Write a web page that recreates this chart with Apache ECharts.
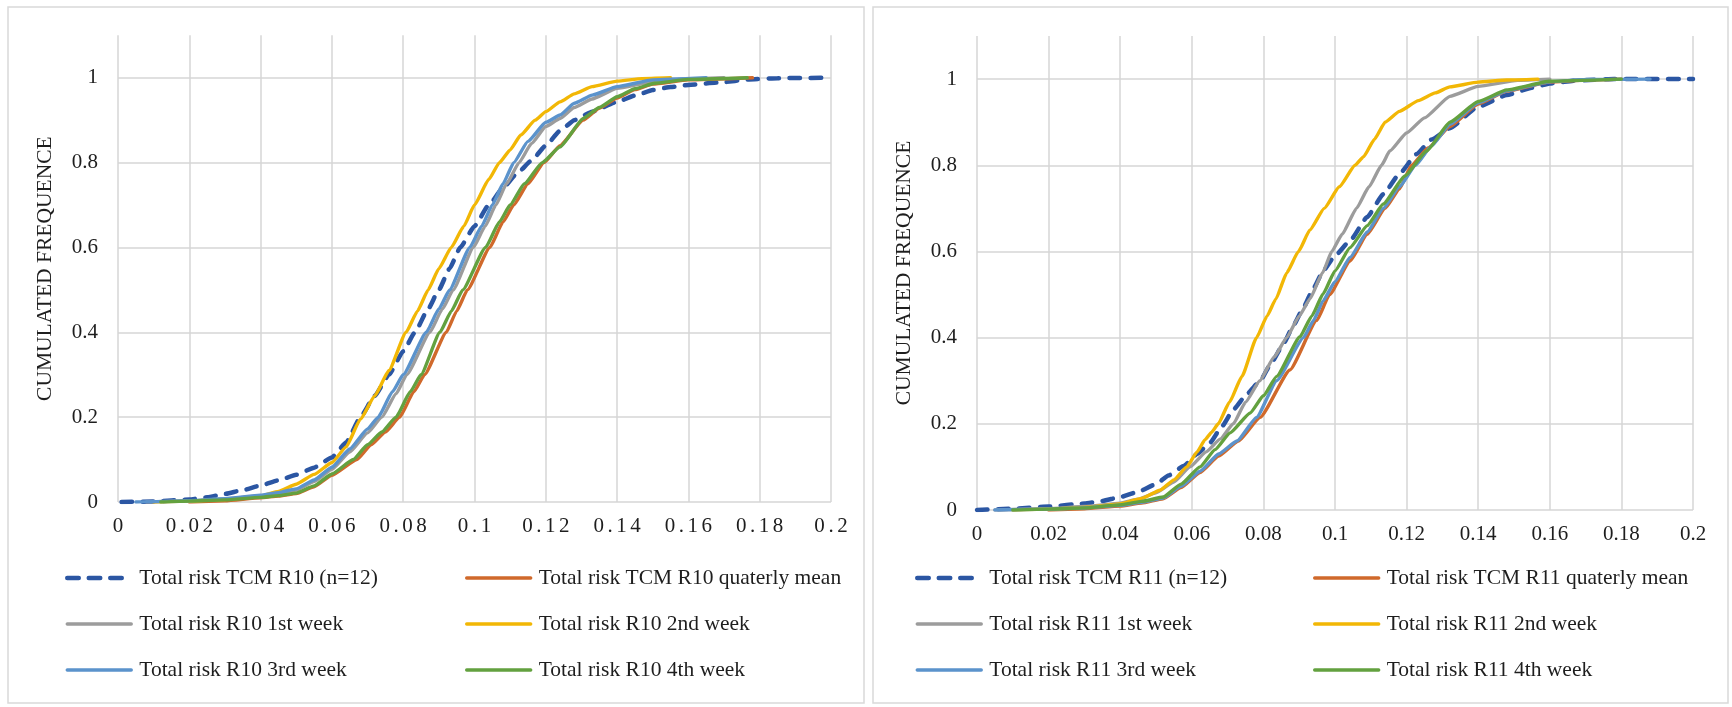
<!DOCTYPE html>
<html>
<head>
<meta charset="utf-8">
<script src="https://cdn.jsdelivr.net/npm/echarts@6.0.0/dist/echarts.min.js"></script>
<style>
  html, body { margin: 0; padding: 0; background: #fff; }
  #chart { width: 1732px; height: 707px; }
</style>
</head>
<body>
<div id="chart"></div>
<script>
// Tick labels
const xTickLabels = ['0', '0.02', '0.04', '0.06', '0.08', '0.1', '0.12', '0.14', '0.16', '0.18', '0.2'];
const yAxisTitle = 'CUMULATED FREQUENCE';

// Series names
const namesR10 = ['Total risk TCM R10 (n=12)', 'Total risk TCM R10 quaterly mean', 'Total risk R10 1st week',
                  'Total risk R10 2nd week', 'Total risk R10 3rd week', 'Total risk R10 4th week'];
const namesR11 = ['Total risk TCM R11 (n=12)', 'Total risk TCM R11 quaterly mean', 'Total risk R11 1st week',
                  'Total risk R11 2nd week', 'Total risk R11 3rd week', 'Total risk R11 4th week'];

// R10 cumulative frequency curves: [total risk, cumulated frequence]
const r10Tcm = [[0.001,0],[0.01,0.001],[0.02,0.006],[0.025,0.011],[0.03,0.019],[0.035,0.028],[0.04,0.039],[0.045,0.051],[0.05,0.064],[0.055,0.081],[0.06,0.105],[0.064,0.14],[0.068,0.2],[0.072,0.25],[0.076,0.3],[0.08,0.355],[0.0833,0.4],[0.087,0.455],[0.09,0.5],[0.093,0.55],[0.096,0.6],[0.1,0.65],[0.104,0.7],[0.108,0.74],[0.112,0.775],[0.116,0.805],[0.12,0.84],[0.124,0.875],[0.128,0.9],[0.133,0.92],[0.14,0.943],[0.145,0.958],[0.15,0.971],[0.155,0.978],[0.16,0.983],[0.169,0.989],[0.177,0.996],[0.185,0.999],[0.2,1]];
const r10Quarterly = [[0.02,0],[0.03,0.003],[0.04,0.01],[0.045,0.014],[0.05,0.02],[0.055,0.036],[0.06,0.063],[0.067,0.1],[0.071,0.135],[0.075,0.165],[0.079,0.2],[0.083,0.26],[0.086,0.3],[0.0921,0.4],[0.095,0.45],[0.098,0.5],[0.1043,0.6],[0.108,0.66],[0.111,0.7],[0.115,0.75],[0.1195,0.8],[0.124,0.84],[0.1305,0.9],[0.135,0.928],[0.14,0.952],[0.145,0.972],[0.15,0.985],[0.16,0.995],[0.178,1]];
const r10Week1 = [[0.008,0],[0.02,0.002],[0.03,0.007],[0.04,0.014],[0.045,0.02],[0.05,0.028],[0.055,0.048],[0.06,0.077],[0.065,0.118],[0.07,0.163],[0.074,0.2],[0.078,0.255],[0.081,0.3],[0.0875,0.4],[0.091,0.455],[0.094,0.5],[0.0997,0.6],[0.103,0.65],[0.106,0.7],[0.109,0.75],[0.1125,0.8],[0.116,0.845],[0.12,0.885],[0.124,0.904],[0.128,0.93],[0.133,0.95],[0.14,0.975],[0.15,0.99],[0.16,0.997],[0.17,1]];
const r10Week2 = [[0.01,0],[0.02,0.002],[0.03,0.006],[0.04,0.014],[0.045,0.025],[0.05,0.042],[0.055,0.065],[0.06,0.093],[0.064,0.13],[0.068,0.195],[0.072,0.25],[0.076,0.31],[0.0808,0.4],[0.084,0.45],[0.087,0.5],[0.09,0.55],[0.0935,0.6],[0.097,0.65],[0.1,0.7],[0.104,0.76],[0.107,0.8],[0.11,0.83],[0.113,0.865],[0.117,0.9],[0.12,0.92],[0.124,0.943],[0.128,0.962],[0.133,0.979],[0.14,0.992],[0.147,0.998],[0.155,1]];
const r10Week3 = [[0.005,0],[0.01,0.001],[0.02,0.003],[0.03,0.008],[0.04,0.016],[0.045,0.022],[0.05,0.031],[0.055,0.052],[0.06,0.082],[0.065,0.125],[0.07,0.172],[0.073,0.2],[0.077,0.26],[0.08,0.3],[0.0865,0.4],[0.09,0.455],[0.093,0.5],[0.0987,0.6],[0.102,0.65],[0.105,0.7],[0.108,0.75],[0.111,0.8],[0.115,0.85],[0.12,0.895],[0.124,0.912],[0.128,0.94],[0.133,0.959],[0.14,0.979],[0.15,0.995],[0.165,1]];
const r10Week4 = [[0.012,0],[0.02,0.002],[0.03,0.005],[0.04,0.011],[0.045,0.015],[0.05,0.021],[0.055,0.038],[0.06,0.066],[0.066,0.1],[0.07,0.135],[0.074,0.165],[0.078,0.2],[0.082,0.26],[0.085,0.3],[0.0903,0.4],[0.0935,0.45],[0.0967,0.5],[0.1031,0.6],[0.107,0.66],[0.11,0.7],[0.114,0.75],[0.119,0.8],[0.124,0.837],[0.1305,0.904],[0.135,0.93],[0.14,0.955],[0.145,0.974],[0.1505,0.987],[0.16,0.996],[0.1765,1]];

// R11 cumulative frequency curves
const r11Tcm = [[0,0],[0.01,0.003],[0.02,0.008],[0.03,0.015],[0.035,0.021],[0.04,0.03],[0.045,0.042],[0.05,0.06],[0.0535,0.08],[0.0577,0.102],[0.0615,0.13],[0.0651,0.156],[0.0685,0.195],[0.0716,0.233],[0.0755,0.27],[0.0791,0.3],[0.0825,0.345],[0.0856,0.386],[0.0885,0.43],[0.0912,0.47],[0.094,0.515],[0.0967,0.555],[0.1,0.59],[0.1042,0.625],[0.109,0.68],[0.1135,0.733],[0.118,0.78],[0.1228,0.826],[0.127,0.86],[0.1321,0.886],[0.14,0.936],[0.148,0.963],[0.155,0.98],[0.16,0.99],[0.168,0.997],[0.178,1],[0.2,1]];
const r11Quarterly = [[0.02,0],[0.03,0.003],[0.04,0.009],[0.046,0.016],[0.052,0.026],[0.057,0.052],[0.0623,0.087],[0.0675,0.125],[0.073,0.16],[0.0791,0.215],[0.0874,0.325],[0.0949,0.44],[0.0985,0.5],[0.1042,0.578],[0.109,0.64],[0.114,0.7],[0.118,0.745],[0.1214,0.8],[0.126,0.84],[0.1321,0.89],[0.14,0.942],[0.148,0.972],[0.16,0.993],[0.17,0.998],[0.18,1]];
const r11Week1 = [[0.005,0],[0.02,0.003],[0.03,0.008],[0.04,0.016],[0.045,0.025],[0.05,0.04],[0.055,0.065],[0.0595,0.1],[0.064,0.135],[0.068,0.165],[0.0716,0.2],[0.075,0.25],[0.079,0.3],[0.083,0.355],[0.0865,0.4],[0.09,0.45],[0.093,0.49],[0.0965,0.55],[0.0991,0.6],[0.102,0.64],[0.106,0.7],[0.1095,0.75],[0.113,0.8],[0.1153,0.833],[0.12,0.875],[0.125,0.91],[0.1321,0.96],[0.14,0.983],[0.151,0.997],[0.16,1]];
const r11Week2 = [[0.01,0],[0.02,0.002],[0.03,0.006],[0.04,0.014],[0.046,0.027],[0.0511,0.046],[0.055,0.07],[0.0586,0.1],[0.0615,0.135],[0.0637,0.163],[0.0655,0.18],[0.0674,0.2],[0.0705,0.25],[0.074,0.31],[0.0781,0.4],[0.081,0.45],[0.0835,0.49],[0.0865,0.55],[0.0898,0.6],[0.093,0.65],[0.097,0.7],[0.1012,0.75],[0.1056,0.8],[0.108,0.82],[0.111,0.86],[0.114,0.9],[0.118,0.925],[0.1233,0.95],[0.128,0.968],[0.1321,0.982],[0.14,0.993],[0.148,0.998],[0.1567,1]];
const r11Week3 = [[0.005,0],[0.02,0.002],[0.03,0.005],[0.04,0.011],[0.046,0.018],[0.052,0.028],[0.057,0.055],[0.0623,0.09],[0.0675,0.13],[0.0726,0.16],[0.0781,0.215],[0.0837,0.3],[0.0912,0.4],[0.094,0.44],[0.0967,0.486],[0.1,0.53],[0.1042,0.586],[0.109,0.645],[0.1135,0.7],[0.118,0.75],[0.1225,0.8],[0.127,0.845],[0.1321,0.895],[0.14,0.945],[0.148,0.973],[0.16,0.994],[0.17,0.999],[0.188,1]];
const r11Week4 = [[0.01,0],[0.02,0.002],[0.03,0.005],[0.04,0.012],[0.046,0.02],[0.052,0.03],[0.057,0.06],[0.0623,0.1],[0.0665,0.14],[0.0707,0.179],[0.0763,0.225],[0.08,0.265],[0.0837,0.31],[0.0902,0.402],[0.0935,0.45],[0.0967,0.502],[0.1,0.555],[0.1042,0.609],[0.109,0.66],[0.1135,0.71],[0.1195,0.775],[0.1256,0.833],[0.1321,0.9],[0.14,0.948],[0.148,0.975],[0.16,0.995],[0.18,1]];

const seriesColors = ['#2B56A3', '#D0692B', '#9C9C9C', '#F2B705', '#5B93CC', '#63A13F'];
const FONT = "'Liberation Serif', 'Times New Roman', serif";
const TEXT = '#1E1E1E';

function lineStyleFor(colorIdx, dashPattern) {
  const dashed = colorIdx === 0;
  return {
    color: seriesColors[colorIdx],
    width: dashed ? 4.5 : 3.4,
    type: dashed ? dashPattern : 'solid',
    cap: 'round'
  };
}

function curve(name, data, colorIdx, panel) {
  return {
    type: 'line', name, data,
    xAxisIndex: panel, yAxisIndex: panel,
    showSymbol: false, symbol: 'none',
    smooth: 0.15, smoothMonotone: 'x',
    lineStyle: lineStyleFor(colorIdx, [10.5, 10.5]),
    itemStyle: { color: seriesColors[colorIdx] },
    emphasis: { disabled: true }
  };
}

// Letter-spaced labels on the R10 axis
const spaced = s => s.split('').join('\u200A\u200A');

function xAxis(panel, spacedLabels) {
  return {
    type: 'value', gridIndex: panel, min: 0, max: 0.2, interval: 0.02,
    axisLine: { show: false }, axisTick: { show: false },
    splitLine: { show: true, showMinLine: true, showMaxLine: true, lineStyle: { color: '#D6D6D6', width: 1.5 } },
    axisLabel: {
      margin: 14, fontFamily: FONT, fontSize: 21, color: TEXT,
      formatter: (v, i) => spacedLabels ? spaced(xTickLabels[i]) : xTickLabels[i]
    }
  };
}

function yAxis(panel) {
  return {
    type: 'value', gridIndex: panel, min: 0, max: 1.1, interval: 0.2,
    axisLine: { show: false }, axisTick: { show: false },
    splitLine: { show: true, showMinLine: true, showMaxLine: false, lineStyle: { color: '#D6D6D6', width: 1.5 } },
    axisLabel: { margin: 20, fontFamily: FONT, fontSize: 21, color: TEXT, showMaxLabel: false },
    name: yAxisTitle, nameLocation: 'middle', nameRotate: 90, nameGap: 62,
    nameTextStyle: { fontFamily: FONT, fontSize: 21.5, color: TEXT }
  };
}

// One legend column: entries carry their series' line style, no marker
function legendColumn(left, names, idxs) {
  return {
    orient: 'vertical', left, top: 566, padding: 0,
    data: names.map((n, k) => ({ name: n, lineStyle: lineStyleFor(idxs[k], [11.5, 10]) })),
    itemWidth: 64, itemHeight: 14, itemGap: 22,
    itemStyle: { opacity: 0 },
    selectedMode: false,
    textStyle: { fontFamily: FONT, fontSize: 21.5, color: TEXT, lineHeight: 24, padding: [0, 0, 0, 3] }
  };
}

const r10Data = [r10Tcm, r10Quarterly, r10Week1, r10Week2, r10Week3, r10Week4];
const r11Data = [r11Tcm, r11Quarterly, r11Week1, r11Week2, r11Week3, r11Week4];

const series = [];
namesR10.forEach((n, i) => series.push(curve(n, r10Data[i], i, 0)));
namesR11.forEach((n, i) => series.push(curve(n, r11Data[i], i, 1)));

const chart = echarts.init(document.getElementById('chart'), null, { renderer: 'canvas' });
chart.setOption({
  animation: false,
  backgroundColor: '#ffffff',
  grid: [
    { left: 118, top: 35.3, width: 713, height: 466.7 },
    { left: 977, top: 36, width: 716, height: 474 }
  ],
  xAxis: [xAxis(0, true), xAxis(1, false)],
  yAxis: [yAxis(0), yAxis(1)],
  legend: [
    legendColumn(65, [namesR10[0], namesR10[2], namesR10[4]], [0, 2, 4]),
    legendColumn(465, [namesR10[1], namesR10[3], namesR10[5]], [1, 3, 5]),
    legendColumn(915, [namesR11[0], namesR11[2], namesR11[4]], [0, 2, 4]),
    legendColumn(1313, [namesR11[1], namesR11[3], namesR11[5]], [1, 3, 5])
  ],
  graphic: [
    { type: 'rect', silent: true, z: -10, shape: { x: 8, y: 7, width: 856, height: 696 },
      style: { fill: 'none', stroke: '#D9D9D9', lineWidth: 1.5 } },
    { type: 'rect', silent: true, z: -10, shape: { x: 873, y: 7, width: 855, height: 696 },
      style: { fill: 'none', stroke: '#D9D9D9', lineWidth: 1.5 } }
  ],
  series
});
</script>
</body>
</html>
